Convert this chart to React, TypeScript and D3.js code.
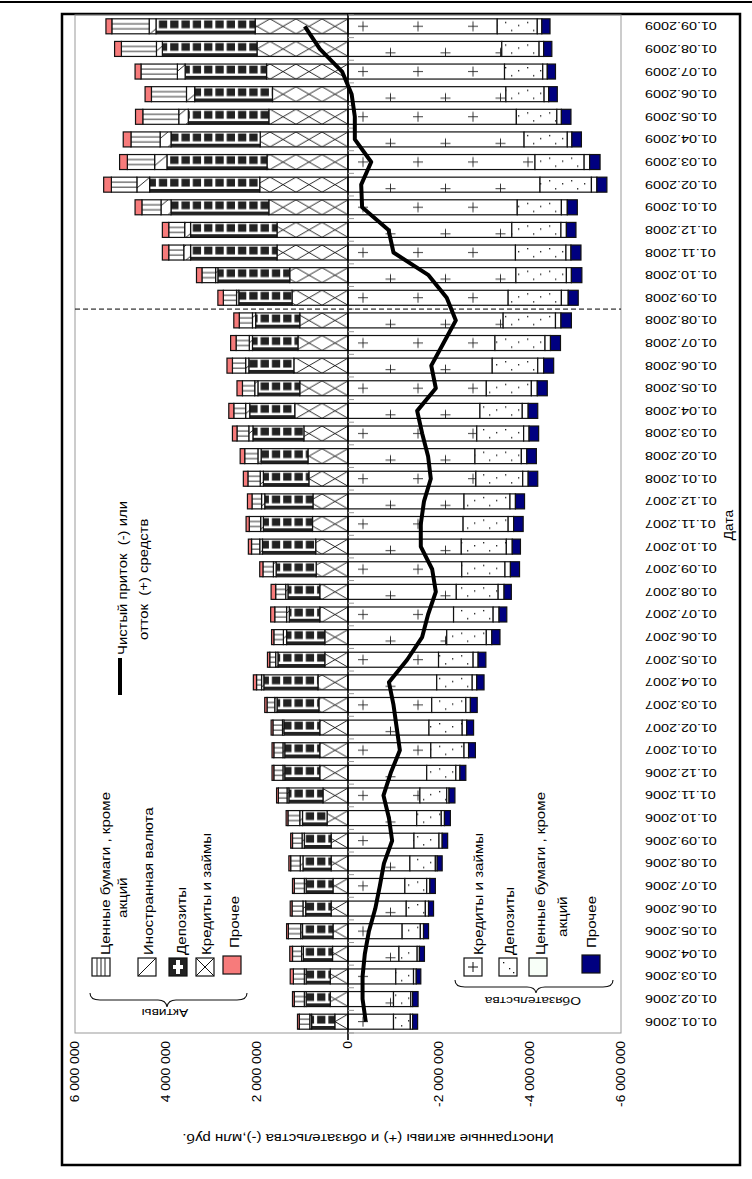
import React, { useEffect, useRef } from 'react';
import * as d3 from 'd3';

// Даты (ось категорий)
const dates = [
  '01.01.2006', '01.02.2006', '01.03.2006', '01.04.2006', '01.05.2006', '01.06.2006',
  '01.07.2006', '01.08.2006', '01.09.2006', '01.10.2006', '01.11.2006', '01.12.2006',
  '01.01.2007', '01.02.2007', '01.03.2007', '01.04.2007', '01.05.2007', '01.06.2007',
  '01.07.2007', '01.08.2007', '01.09.2007', '01.10.2007', '01.11.2007', '01.12.2007',
  '01.01.2008', '01.02.2008', '01.03.2008', '01.04.2008', '01.05.2008', '01.06.2008',
  '01.07.2008', '01.08.2008', '01.09.2008', '01.10.2008', '01.11.2008', '01.12.2008',
  '01.01.2009', '01.02.2009', '01.03.2009', '01.04.2009', '01.05.2009', '01.06.2009',
  '01.07.2009', '01.08.2009', '01.09.2009',
];

// Активы, млн руб.
const assetsLoans = [
  290000, 390000, 390000, 340000, 330000, 370000, 330000, 370000, 370000, 460000, 550000, 620000,
  620000, 620000, 640000, 660000, 510000, 510000, 620000, 620000, 700000, 710000, 780000, 770000,
  860000, 880000, 970000, 1170000, 1060000, 1190000, 1100000, 1060000, 1230000, 1280000, 1560000, 1560000,
  1740000, 1940000, 1780000, 1930000, 1740000, 1660000, 1790000, 2000000, 2040000,
];
const assetsDeposits = [
  510000, 530000, 530000, 640000, 670000, 560000, 590000, 620000, 590000, 540000, 750000, 770000,
  770000, 790000, 920000, 1190000, 1030000, 840000, 670000, 700000, 880000, 1170000, 1080000, 1060000,
  1000000, 1030000, 1120000, 990000, 920000, 990000, 1000000, 970000, 1170000, 1580000, 1900000, 1900000,
  2150000, 2420000, 2200000, 1960000, 1770000, 1710000, 1790000, 2080000, 2180000,
];
const assetsCurrency = [
  40000, 40000, 40000, 40000, 40000, 60000, 40000, 60000, 50000, 60000, 40000, 40000,
  40000, 30000, 50000, 50000, 50000, 70000, 60000, 50000, 60000, 60000, 60000, 70000,
  70000, 70000, 90000, 90000, 70000, 70000, 70000, 70000, 50000, 50000, 150000, 130000,
  220000, 280000, 270000, 240000, 210000, 180000, 170000, 130000, 150000,
];
const assetsSecurities = [
  230000, 220000, 240000, 200000, 270000, 240000, 220000, 210000, 210000, 260000, 190000, 200000,
  200000, 210000, 170000, 110000, 130000, 210000, 260000, 220000, 230000, 180000, 250000, 210000,
  270000, 290000, 260000, 260000, 270000, 290000, 290000, 290000, 290000, 300000, 330000, 350000,
  420000, 560000, 600000, 640000, 790000, 770000, 800000, 770000, 820000,
];
const assetsOther = [
  40000, 40000, 70000, 60000, 40000, 40000, 40000, 40000, 40000, 40000, 40000, 40000,
  40000, 40000, 50000, 70000, 50000, 50000, 90000, 100000, 70000, 70000, 70000, 100000,
  100000, 100000, 100000, 110000, 120000, 120000, 120000, 120000, 120000, 120000, 140000, 140000,
  150000, 170000, 170000, 170000, 160000, 140000, 130000, 150000, 130000,
];

// Обязательства, млн руб.
const liabLoans = [
  -1000000, -1000000, -1050000, -1120000, -1190000, -1280000, -1250000, -1360000, -1450000, -1510000, -1580000, -1730000,
  -1820000, -1780000, -1840000, -1950000, -1990000, -2170000, -2320000, -2380000, -2500000, -2490000, -2530000, -2550000,
  -2810000, -2790000, -2830000, -2900000, -3040000, -3170000, -3230000, -3410000, -3520000, -3690000, -3680000, -3600000,
  -3720000, -4220000, -4110000, -3870000, -3700000, -3470000, -3440000, -3380000, -3280000,
];
const liabDeposits = [
  -370000, -380000, -390000, -400000, -400000, -420000, -480000, -560000, -550000, -540000, -590000, -640000,
  -730000, -730000, -750000, -780000, -760000, -870000, -870000, -920000, -950000, -990000, -990000, -1010000,
  -1030000, -1020000, -1030000, -930000, -990000, -1000000, -1100000, -1150000, -1170000, -1110000, -1110000, -1080000,
  -970000, -1130000, -1080000, -950000, -890000, -840000, -840000, -820000, -880000,
];
const liabSecurities = [
  -50000, -40000, -60000, -50000, -70000, -70000, -70000, -40000, -70000, -70000, -50000, -90000,
  -100000, -100000, -100000, -100000, -110000, -120000, -130000, -130000, -120000, -130000, -120000, -120000,
  -120000, -120000, -120000, -130000, -130000, -130000, -120000, -120000, -150000, -110000, -110000, -120000,
  -130000, -120000, -120000, -100000, -100000, -100000, -100000, -100000, -100000,
];
const liabOther = [
  -110000, -120000, -100000, -110000, -110000, -110000, -120000, -110000, -120000, -130000, -130000, -130000,
  -150000, -150000, -150000, -160000, -170000, -180000, -170000, -160000, -200000, -180000, -210000, -200000,
  -210000, -210000, -210000, -210000, -220000, -220000, -220000, -230000, -220000, -230000, -220000, -210000,
  -220000, -220000, -230000, -210000, -210000, -190000, -180000, -180000, -180000,
];

// Чистый приток (-) или отток (+) средств
const netFlow = [
  -390000, -320000, -320000, -370000, -460000, -600000, -700000, -790000, -970000, -900000, -780000, -940000,
  -1140000, -1070000, -1000000, -900000, -1300000, -1630000, -1760000, -1930000, -1850000, -1600000, -1600000, -1670000,
  -1820000, -1760000, -1630000, -1520000, -1930000, -1830000, -2100000, -2370000, -2170000, -1770000, -1000000, -890000,
  -310000, -290000, -510000, -150000, -150000, -80000, 130000, 620000, 950000,
];

const valueTicks = [6000000, 4000000, 2000000, 0, -2000000, -4000000, -6000000];

const seriesKeys = ['aLoans', 'aDeposits', 'aCurrency', 'aSecurities', 'aOther', 'lLoans', 'lDeposits', 'lSecurities', 'lOther'];

const FONT = '"Liberation Sans", Arial, sans-serif';

const fmtValue = (v: number) =>
  v === 0 ? '0' : `${v < 0 ? '-' : ''}${d3.format(',')(Math.abs(v)).replace(/,/g, ' ')}`;

const App: React.FC = () => {
  const ref = useRef<SVGSVGElement>(null);

  useEffect(() => {
    if (!ref.current) return;
    const svg = d3.select(ref.current);
    svg.selectAll('*').remove();

    const x = d3.scaleLinear().domain([6000000, -6000000]).range([75, 621]);
    const y = d3.scaleBand<string>().domain(dates).range([1033, 15]).paddingInner(0.337).paddingOuter(0.1685);
    const bw = y.bandwidth();
    const step = y.step();
    const x0 = x(0);
    const barTop0 = y(dates[0]) as number;

    const table = dates.map((d, i) => ({
      date: d,
      aLoans: assetsLoans[i], aDeposits: assetsDeposits[i], aCurrency: assetsCurrency[i],
      aSecurities: assetsSecurities[i], aOther: assetsOther[i],
      lLoans: liabLoans[i], lDeposits: liabDeposits[i], lSecurities: liabSecurities[i], lOther: liabOther[i],
    }));
    const stacked = d3.stack<any>().keys(seriesKeys).offset(d3.stackOffsetDiverging)(table);

    const defs = svg.append('defs');

    // X-hatch: кредиты и займы (активы)
    const pLoansA = defs.append('pattern').attr('id', 'p-aloans').attr('patternUnits', 'userSpaceOnUse')
      .attr('x', x0).attr('y', barTop0).attr('width', 26).attr('height', step);
    pLoansA.append('rect').attr('width', 26).attr('height', step).attr('fill', '#fff');
    pLoansA.append('path').attr('d', `M0,0L26,${bw}M0,${bw}L26,0`).attr('stroke', '#111').attr('stroke-width', 0.9);

    // Депозиты (активы): чёрные квадраты
    const dw = 11.3;
    const pDepA = defs.append('pattern').attr('id', 'p-adep').attr('patternUnits', 'userSpaceOnUse')
      .attr('x', x0).attr('y', barTop0).attr('width', dw).attr('height', step);
    pDepA.append('rect').attr('width', dw).attr('height', step).attr('fill', '#fff');
    pDepA.append('rect').attr('x', 3).attr('y', 1.6).attr('width', dw - 3).attr('height', 7.8).attr('fill', '#222');
    pDepA.append('rect').attr('x', 0).attr('y', 11.8).attr('width', dw).attr('height', bw - 11.8).attr('fill', '#222');

    // Иностранная валюта: диагональ
    const pFx = defs.append('pattern').attr('id', 'p-afx').attr('patternUnits', 'userSpaceOnUse')
      .attr('x', x0).attr('y', barTop0).attr('width', 18).attr('height', step);
    pFx.append('rect').attr('width', 18).attr('height', step).attr('fill', '#fff');
    pFx.append('path').attr('d', `M0,${bw}L18,0`).attr('stroke', '#111').attr('stroke-width', 0.9);

    // Ценные бумаги (активы): горизонтальные линии
    const pSecA = defs.append('pattern').attr('id', 'p-asec').attr('patternUnits', 'userSpaceOnUse')
      .attr('x', 0).attr('y', barTop0).attr('width', 10).attr('height', step);
    pSecA.append('rect').attr('width', 10).attr('height', step).attr('fill', '#fff');
    pSecA.append('rect').attr('y', bw / 3 - 0.5).attr('width', 10).attr('height', 1).attr('fill', '#333');
    pSecA.append('rect').attr('y', (2 * bw) / 3 - 0.5).attr('width', 10).attr('height', 1).attr('fill', '#333');

    // Кредиты и займы (обязательства): плюсы
    const pLoansL = defs.append('pattern').attr('id', 'p-lloans').attr('patternUnits', 'userSpaceOnUse')
      .attr('x', x0).attr('y', barTop0).attr('width', 55).attr('height', step * 2);
    pLoansL.append('rect').attr('width', 55).attr('height', step * 2).attr('fill', '#fff');
    pLoansL.append('path')
      .attr('d', `M10,${bw / 2}h10M15,${bw / 2 - 5}v10M37.5,${step + bw / 2 + 4}h10M42.5,${step + bw / 2 - 1}v10`)
      .attr('stroke', '#222').attr('stroke-width', 0.9);

    // Депозиты (обязательства): точки
    const pDepL = defs.append('pattern').attr('id', 'p-ldep').attr('patternUnits', 'userSpaceOnUse')
      .attr('x', x0).attr('y', barTop0).attr('width', 22).attr('height', step);
    pDepL.append('rect').attr('width', 22).attr('height', step).attr('fill', '#fff');
    [[3, 3], [9, 11], [16, 6]].forEach(([cx, cy]) => {
      pDepL.append('rect').attr('x', cx).attr('y', cy).attr('width', 1.3).attr('height', 1.3).attr('fill', '#111');
    });

    const fills: Record<string, string> = {
      aLoans: 'url(#p-aloans)', aDeposits: 'url(#p-adep)', aCurrency: 'url(#p-afx)', aSecurities: 'url(#p-asec)',
      aOther: '#f77b7b', lLoans: 'url(#p-lloans)', lDeposits: 'url(#p-ldep)', lSecurities: '#fff', lOther: '#000080',
    };

    // Рамки
    svg.append('line').attr('x1', 0).attr('x2', 752).attr('y1', 2).attr('y2', 2).attr('stroke', '#000').attr('stroke-width', 2);
    svg.append('rect').attr('x', 62).attr('y', 14).attr('width', 678).attr('height', 1151)
      .attr('fill', 'none').attr('stroke', '#000').attr('stroke-width', 2.5);

    // Область построения
    svg.append('rect').attr('x', 75).attr('y', 15).attr('width', 546).attr('height', 1018)
      .attr('fill', 'none').attr('stroke', '#999').attr('stroke-width', 1);

    // Столбцы
    const gBars = svg.append('g');
    stacked.forEach(s => {
      gBars.selectAll(null)
        .data(s)
        .enter()
        .append('rect')
        .attr('x', d => Math.min(x(d[0]), x(d[1])))
        .attr('y', d => y(d.data.date) as number)
        .attr('width', d => Math.abs(x(d[1]) - x(d[0])))
        .attr('height', bw)
        .attr('fill', fills[s.key])
        .attr('stroke', '#111')
        .attr('stroke-width', 1.2);
    });

    // Нулевая линия и засечки оси категорий
    svg.append('line').attr('x1', x0).attr('x2', x0).attr('y1', 13).attr('y2', 1040)
      .attr('stroke', '#000').attr('stroke-width', 1.6);
    svg.selectAll('line.ctick')
      .data(d3.range(dates.length + 1))
      .enter()
      .append('line')
      .attr('class', 'ctick')
      .attr('x1', x0).attr('x2', x0 + 6)
      .attr('y1', i => 1033 - i * step).attr('y2', i => 1033 - i * step)
      .attr('stroke', '#999').attr('stroke-width', 1);

    // Пунктир между 01.08.2008 и 01.09.2008
    const yDash = (y('01.09.2008') as number) + bw + (step - bw) / 2;
    svg.append('line').attr('x1', 75).attr('x2', 621).attr('y1', yDash).attr('y2', yDash)
      .attr('stroke', '#000').attr('stroke-width', 1).attr('stroke-dasharray', '5,3');

    // Линия чистого потока
    const line = d3.line<number>()
      .x(v => x(v))
      .y((v, i) => (y(dates[i]) as number) + bw / 2);
    svg.append('path').datum(netFlow).attr('d', line).attr('fill', 'none')
      .attr('stroke', '#000').attr('stroke-width', 4).attr('stroke-linejoin', 'round');

    // Текст
    const txt = (tx: number, ty: number, rot: number, s: string, anchor: string, size: number, sx = 1.2) =>
      svg.append('text')
        .attr('transform', `translate(${tx},${ty}) rotate(${rot}) scale(${sx},1)`)
        .attr('text-anchor', anchor)
        .attr('dy', '0.35em')
        .attr('font-family', FONT)
        .attr('font-size', size)
        .attr('fill', '#000')
        .style('white-space', 'pre')
        .text(s);

    dates.forEach(d => txt(645, (y(d) as number) + bw / 2, 180, d, 'end', 11.5, 1.25));
    valueTicks.forEach(v => txt(x(v), 1041, -90, fmtValue(v), 'end', 12, 1.15));

    txt(368, 1138, 180, 'Иностранные активы (+) и обязательства (-),млн руб.', 'middle', 12.5, 1.2);
    txt(729, 525, -90, 'Дата', 'middle', 12, 1.15);

    // Легенда: активы
    const swatch = (sx0: number, sy0: number, fill: string) =>
      svg.append('rect').attr('x', sx0).attr('y', sy0).attr('width', 18).attr('height', 18)
        .attr('fill', fill).attr('stroke', '#111').attr('stroke-width', 1.2);

    swatch(92, 958, '#fff');
    [97, 101, 105].forEach(lx => svg.append('line').attr('x1', lx).attr('x2', lx).attr('y1', 958).attr('y2', 976).attr('stroke', '#222'));
    swatch(138, 958, '#fff');
    svg.append('line').attr('x1', 138).attr('y1', 976).attr('x2', 156).attr('y2', 958).attr('stroke', '#111');
    swatch(169, 958, '#222');
    svg.append('rect').attr('x', 173).attr('y', 965).attr('width', 10).attr('height', 4).attr('fill', '#fff');
    svg.append('rect').attr('x', 176).attr('y', 960).attr('width', 4).attr('height', 14).attr('fill', '#fff');
    swatch(196, 958, '#fff');
    svg.append('path').attr('d', 'M196,958L214,976M196,976L214,958').attr('stroke', '#111');
    swatch(223, 956, '#f77b7b');

    txt(105, 955, -90, 'Ценные бумаги , кроме', 'start', 13.5, 1.12);
    txt(122, 918, -90, 'акций', 'start', 13.5, 1.12);
    txt(148, 955, -90, 'Иностранная валюта', 'start', 13.5, 1.12);
    txt(181, 955, -90, 'Депозиты', 'start', 13.5, 1.12);
    txt(206, 955, -90, 'Кредиты и займы', 'start', 13.5, 1.12);
    txt(234, 948, -90, 'Прочее', 'start', 13.5, 1.12);

    svg.append('path')
      .attr('d', 'M90,993 Q90,1000 100,1000 L158,1000 Q166,1000 167,1007 Q168,1000 176,1000 L237,1000 Q247,1000 247,993')
      .attr('fill', 'none').attr('stroke', '#111').attr('stroke-width', 1.1);
    txt(165, 1013, 180, 'Активы', 'middle', 11.5, 1.2);

    // Легенда: обязательства
    swatch(464, 958, '#fff');
    svg.append('path').attr('d', 'M468,967h10M473,962v10').attr('stroke', '#111');
    swatch(499, 958, '#fff');
    [[503, 962], [509, 968], [513, 972]].forEach(([px, py]) =>
      svg.append('rect').attr('x', px).attr('y', py).attr('width', 1.3).attr('height', 1.3).attr('fill', '#111'));
    swatch(529, 958, '#f8fff8');
    swatch(582, 955, '#000080');

    txt(478, 955, -90, 'Кредиты и займы', 'start', 13.5, 1.12);
    txt(509, 955, -90, 'Депозиты', 'start', 13.5, 1.12);
    txt(540, 955, -90, 'Ценные бумаги , кроме', 'start', 13.5, 1.12);
    txt(562, 937, -90, 'акций', 'start', 13.5, 1.12);
    txt(591, 948, -90, 'Прочее', 'start', 13.5, 1.12);

    svg.append('path')
      .attr('d', 'M455,980 Q455,987 465,987 L527,987 Q535,987 536,993 Q537,987 545,987 L603,987 Q613,987 613,980')
      .attr('fill', 'none').attr('stroke', '#111').attr('stroke-width', 1.1);
    txt(533, 1001, 180, 'Обязательства', 'middle', 11.5, 1.2);

    // Легенда линии
    svg.append('line').attr('x1', 120).attr('x2', 120).attr('y1', 658).attr('y2', 695)
      .attr('stroke', '#000').attr('stroke-width', 4);
    txt(122, 655, -90, 'Чистый приток  (-) или', 'start', 13.5, 1.1);
    txt(143, 640, -90, 'отток  (+) средств', 'start', 13.5, 1.1);
  }, []);

  return (
    <svg ref={ref} width={752} height={1179} style={{ display: 'block', position: 'absolute', left: 0, top: 0, background: '#fff' }} />
  );
};

export default App;
